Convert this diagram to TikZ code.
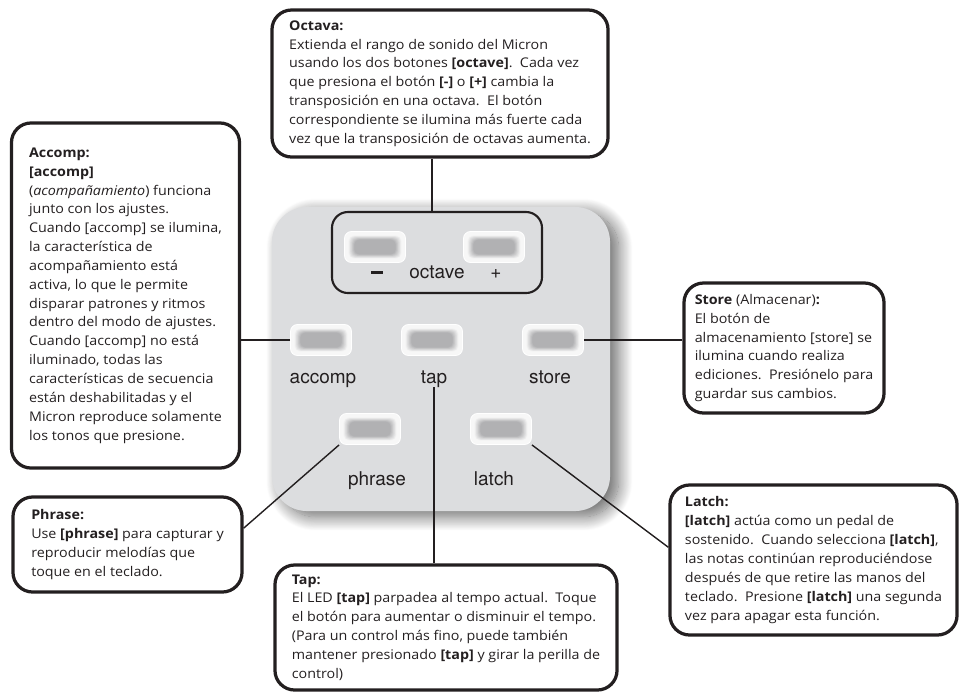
\documentclass[tikz,border=0pt]{standalone}
\usepackage{fontspec}
\setmainfont{Open Sans}[FakeStretch=1.07]
\newfontfamily\keyfont{TeX Gyre Heros}
\usetikzlibrary{positioning,shadows.blur}
\definecolor{panelgray}{HTML}{DCDDDF}
\definecolor{ledgray}{HTML}{B0B0B2}
\definecolor{ledwhite}{HTML}{F7F7F7}
\definecolor{ink}{HTML}{231F20}
\tikzset{
  callout/.style={draw=ink, line width=2.3pt, rounded corners=14pt, align=left,
                  inner xsep=0.2cm, text=ink, font=\fontsize{9.5}{13.4}\selectfont},
  panel/.style={fill=panelgray, minimum width=8.45cm, minimum height=7.6cm,
                rounded corners=0.875cm,
                blur shadow={shadow xshift=6pt, shadow yshift=-4pt,
                             shadow blur radius=10pt, shadow blur steps=20,
                             shadow opacity=60}},
  led/.style={minimum width=1.525cm, minimum height=0.775cm, rounded corners=5pt,
              fill=ledwhite, draw=white, line width=0.6pt,
              path picture={
                \foreach \k [evaluate=\k as \p using int(8+9*\k)] in {0,...,10}
                  \fill[ledgray!\p!ledwhite, rounded corners=3.5pt]
                    ([shift={(3pt+\k*0.4pt,3pt+\k*0.28pt)}]path picture bounding box.south west)
                    rectangle
                    ([shift={(-3pt-\k*0.4pt,-3pt-\k*0.28pt)}]path picture bounding box.north east);}},
  keylabel/.style={font=\keyfont\fontsize{13.5}{13.5}\selectfont, text=ink,
                   inner sep=0pt, anchor=base},
  conn/.style={draw=ink, line width=1.9pt},
  thinconn/.style={draw=ink, line width=1pt}
}
\begin{document}
\begin{tikzpicture}[x=0.025cm, y=-0.025cm]
  \useasboundingbox (0,0) rectangle (961,693);
  \node[panel] (panel) at (441,359) {};
  \node[draw=ink, line width=1.5pt, rounded corners=0.4cm,
        minimum width=5.25cm, minimum height=2.025cm] (octgroup) at (437,252.5) {};
  \node[led] (octminusled) at (375,247) {};
  \node[led] (octplusled) at (494,247) {};
  \node[led] (accompled) at (321,340) {};
  \node[led] (tapled) at (432,340) {};
  \node[led] (storeled) at (553,340) {};
  \node[led] (phraseled) at (370,429) {};
  \node[led] (latchled) at (501,429) {};
  \node[keylabel] (minuslabel) at (377,278) {\rule[0.22em]{0.6em}{0.15em}};
  \node[keylabel] (octavelabel) at (437,278) {octave};
  \node[keylabel] (pluslabel) at (496,278) {+};
  \node[keylabel] (accomplabel) at (323,383) {accomp};
  \node[keylabel] (taplabel) at (434,383) {tap};
  \node[keylabel] (storelabel) at (550,383) {store};
  \node[keylabel] (phraselabel) at (377,485) {phrase};
  \node[keylabel] (latchlabel) at (494,485) {latch};

  \node[callout, minimum width=8.4cm, minimum height=3.675cm]
    (octava) at (440,83.5) {\textbf{Octava:}\\
    Extienda el rango de sonido del Micron\\
    usando los dos botones \textbf{[octave]}.\ \ Cada vez\\
    que presiona el botón \textbf{[-]} o \textbf{[+]} cambia la\\
    transposición en una octava.\ \ El botón\\
    correspondiente se ilumina más fuerte cada\\
    vez que la transposición de octavas aumenta.};
  \node[callout, minimum width=5.7cm, minimum height=8.625cm]
    (accompbox) at (125.5,295.5) {\textbf{Accomp:}\\
    \textbf{[accomp]}\\
    (\textit{acompañamiento}) funciona\\
    junto con los ajustes.\\
    Cuando [accomp] se ilumina,\\
    la característica de\\
    acompañamiento está\\
    activa, lo que le permite\\
    disparar patrones y ritmos\\
    dentro del modo de ajustes.\\
    Cuando [accomp] no está\\
    iluminado, todas las\\
    características de secuencia\\
    están deshabilitadas y el\\
    Micron reproduce solamente\\
    los tonos que presione.};
  \node[callout, minimum width=5.0cm, minimum height=3.25cm]
    (storebox) at (784,348) {\textbf{Store} (Almacenar)\textbf{:}\\
    El botón de\\
    almacenamiento [store] se\\
    ilumina cuando realiza\\
    ediciones.\ \ Presiónelo para\\
    guardar sus cambios.};
  \node[callout, minimum width=5.725cm, minimum height=2.375cm]
    (phrasebox) at (127.5,544.5) {\textbf{Phrase:}\\
    Use \textbf{[phrase]} para capturar y\\
    reproducir melodías que\\
    toque en el teclado.};
  \node[callout, minimum width=8.55cm, minimum height=3.125cm]
    (tapbox) at (446,627.5) {\textbf{Tap:}\\
    El LED \textbf{[tap]} parpadea al tempo actual.\ \ Toque\\
    el botón para aumentar o disminuir el tempo.\\
    (Para un control más fino, puede también\\
    mantener presionado \textbf{[tap]} y girar la perilla de\\
    control)};
  \node[callout, minimum width=7.175cm, minimum height=3.75cm]
    (latchbox) at (813.5,560) {\textbf{Latch:}\\
    \textbf{[latch]} actúa como un pedal de\\
    sostenido.\ \ Cuando selecciona \textbf{[latch]},\\
    las notas continúan reproduciéndose\\
    después de que retire las manos del\\
    teclado.\ \ Presione \textbf{[latch]} una segunda\\
    vez para apagar esta función.};

  \draw[conn] (octgroup.north -| tapled) -- (octava.south -| tapled);
  \draw[conn] (accompled.west) -- (accompled.west -| accompbox.east);
  \draw[conn] (storeled.east) -- (storeled.east -| storebox.west);
  \draw[thinconn] (taplabel.south) -- (taplabel.south |- tapbox.north);
  \draw[thinconn] (phraseled.south west) -- (phrasebox.8);
  \draw[thinconn] (latchled.south east) -- (latchbox.175);
\end{tikzpicture}
\end{document}
